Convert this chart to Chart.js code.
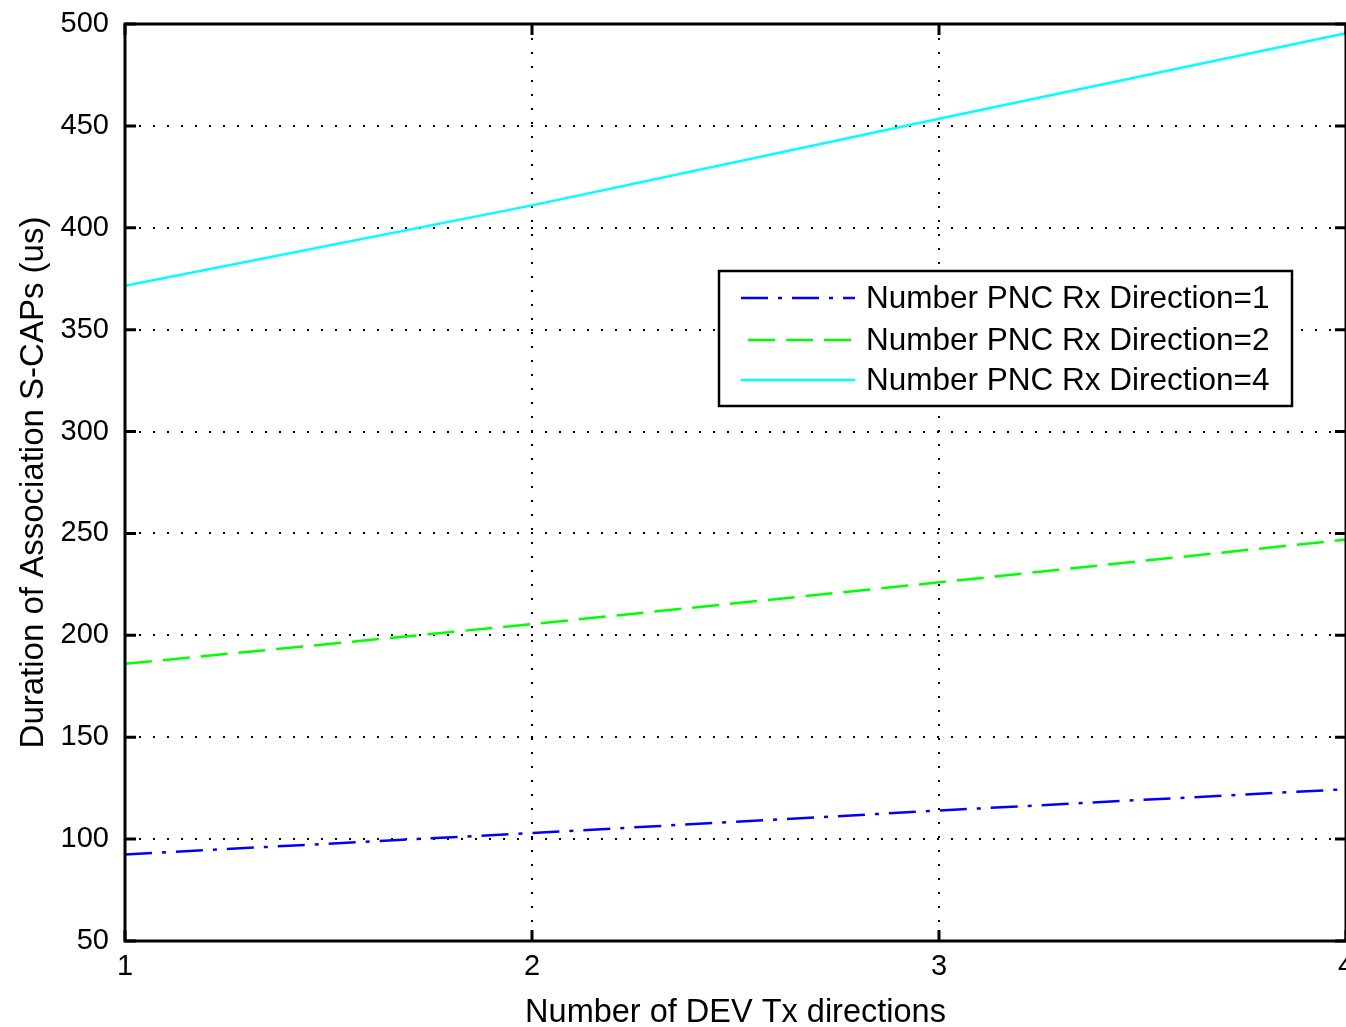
<!DOCTYPE html>
<html>
<head>
<meta charset="utf-8">
<script src="https://cdn.jsdelivr.net/npm/chart.js@4/dist/chart.umd.min.js"></script>
<style>
html,body{margin:0;padding:0;background:#fff;}
#wrap{width:1346px;height:1027px;position:relative;}
</style>
</head>
<body>
<div id="wrap"><canvas id="c" width="1346" height="1027"></canvas></div>
<script>
// ---- data ----
const devTxDirections = [1, 2, 3, 4];
const seriesLabels = [
  'Number PNC Rx Direction=1',
  'Number PNC Rx Direction=2',
  'Number PNC Rx Direction=4'
];
const rx1Values = [92.5, 103, 114, 124.5];
const rx2Values = [186, 205.5, 226, 247];
const rx4Values = [371.5, 411, 453.5, 495.5];
const xTickValues = [1, 2, 3, 4];
const yTickValues = [50, 100, 150, 200, 250, 300, 350, 400, 450, 500];
const xTitle = 'Number of DEV Tx directions';
const yTitle = 'Duration of Association S-CAPs (us)';

const FONT = '"Liberation Sans", Arial, sans-serif';

function pts(vals){ return devTxDirections.map((x,i)=>({x:x, y:vals[i]})); }

const frameTicks = {
  id: 'frameTicks',
  afterDatasetsDraw(chart){
    const ctx = chart.ctx, a = chart.chartArea;
    const xs = chart.scales.x, ys = chart.scales.y;
    ctx.save();
    ctx.strokeStyle = '#000';
    ctx.lineWidth = 3;
    ctx.setLineDash([]);
    ctx.beginPath();
    ctx.moveTo(a.left, a.top); ctx.lineTo(a.right, a.top);
    ctx.moveTo(a.right, a.top); ctx.lineTo(a.right, a.bottom);
    ctx.moveTo(a.left, a.top - 1.5); ctx.lineTo(a.left, a.bottom + 1.5);
    ctx.moveTo(a.left, a.bottom); ctx.lineTo(a.right + 2, a.bottom);
    ctx.stroke();
    const tl = 11;
    ctx.beginPath();
    yTickValues.forEach(v=>{
      const y = ys.getPixelForValue(v);
      ctx.moveTo(a.left, y); ctx.lineTo(a.left + tl, y);
      ctx.moveTo(a.right, y); ctx.lineTo(a.right - tl, y);
    });
    xTickValues.forEach(v=>{
      const x = xs.getPixelForValue(v);
      ctx.moveTo(x, a.bottom); ctx.lineTo(x, a.bottom - tl);
      ctx.moveTo(x, a.top); ctx.lineTo(x, a.top + tl);
    });
    ctx.stroke();

    // legend box
    const bx = 719, by = 271, bw = 573, bh = 135;
    ctx.fillStyle = '#fff';
    ctx.fillRect(bx, by, bw, bh);
    ctx.lineWidth = 2.5;
    ctx.strokeRect(bx, by, bw, bh);
    const rows = [298, 340, 380];
    const starts = [741, 741, 741];
    chart.data.datasets.forEach((ds, i)=>{
      ctx.save();
      ctx.strokeStyle = ds.borderColor;
      ctx.lineWidth = 2.5;
      ctx.setLineDash(ds.borderDash || []);
      if (i === 1) ctx.lineDashOffset = 31;
      ctx.beginPath();
      ctx.moveTo(starts[i], rows[i]); ctx.lineTo(855, rows[i]);
      ctx.stroke();
      ctx.restore();
      ctx.fillStyle = '#000';
      ctx.font = '31.5px ' + FONT;
      ctx.textAlign = 'left';
      ctx.textBaseline = 'middle';
      ctx.fillText(ds.label, 866, rows[i] + 1);
    });
    ctx.restore();
  }
};

new Chart(document.getElementById('c'), {
  type: 'line',
  data: {
    datasets: [
      { label: seriesLabels[0], data: pts(rx1Values), borderColor: '#0000ff', borderWidth: 2.5, borderDash: [27, 10, 4, 10], pointRadius: 0, fill: false, tension: 0 },
      { label: seriesLabels[1], data: pts(rx2Values), borderColor: '#00ff00', borderWidth: 2.5, borderDash: [27, 11], pointRadius: 0, fill: false, tension: 0 },
      { label: seriesLabels[2], data: pts(rx4Values), borderColor: '#00ffff', borderWidth: 2.5, pointRadius: 0, fill: false, tension: 0 }
    ]
  },
  options: {
    responsive: false,
    animation: false,
    devicePixelRatio: 1,
    layout: { padding: { top: 24, right: 0, left: 0, bottom: 0 } },
    plugins: { legend: { display: false }, tooltip: { enabled: false } },
    scales: {
      x: {
        type: 'linear', min: 1, max: 4,
        afterBuildTicks(s){ s.ticks = xTickValues.map(v=>({value:v})); },
        afterFit(s){ s.height = 86; s.paddingLeft = 0; s.paddingRight = 0; },
        ticks: { color: '#000', font: { family: FONT, size: 29 }, padding: 9, maxRotation: 0, autoSkip: false, callback: v => String(v) },
        grid: { color: '#000', lineWidth: 2, drawTicks: false },
        border: { display: false, dash: [2, 12] },
        title: { display: true, text: xTitle, color: '#000', font: { family: FONT, size: 32.5 }, padding: { top: 0, bottom: -6 } }
      },
      y: {
        type: 'linear', min: 50, max: 500,
        afterBuildTicks(s){ s.ticks = yTickValues.map(v=>({value:v})); },
        afterFit(s){ s.width = 125; s.paddingTop = 0; s.paddingBottom = 0; },
        ticks: { color: '#000', font: { family: FONT, size: 29 }, padding: 16, autoSkip: false, callback: v => String(v) },
        grid: { color: '#000', lineWidth: 2, drawTicks: false },
        border: { display: false, dash: [2, 12] },
        title: { display: true, text: yTitle, color: '#000', font: { family: FONT, size: 33 }, padding: { top: 14, bottom: 0 } }
      }
    }
  },
  plugins: [frameTicks]
});
</script>
</body>
</html>
